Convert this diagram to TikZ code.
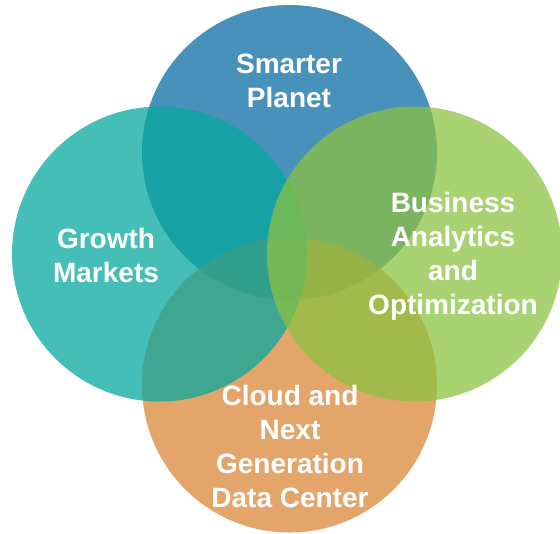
\documentclass[tikz,border=0pt]{standalone}
\usepackage{fontspec}
\setmainfont{Liberation Sans}

\definecolor{planetblue}{RGB}{8,106,163}
\definecolor{growthteal}{RGB}{5,167,159}
\definecolor{businessgreen}{RGB}{139,194,66}
\definecolor{cloudorange}{RGB}{219,134,55}

\begin{document}
\begin{tikzpicture}[x=0.75pt, y=-0.75pt]
    \tikzstyle{bubble}=[circle, minimum size=221.25pt, inner sep=0pt, draw=none, fill opacity=0.74]
    \tikzstyle{annot}=[text=white, align=center, font=\bfseries\fontsize{21}{25.5}\selectfont]

    \useasboundingbox (0,0) rectangle (560,533);

    % the four circles, back to front
    \foreach \name / \x / \y / \col in {planet/289.5/152.5/planetblue,
                                        cloud/289.5/385/cloudorange,
                                        growth/159.5/254/growthteal,
                                        business/414.5/254/businessgreen}
        \node[bubble, fill=\col] (\name) at (\x,\y) {};

    % labels on top
    \node[annot] (planet-text) at (289,81) {Smarter\\Planet};
    \node[annot] (growth-text) at (106,255) {Growth\\Markets};
    \node[annot] (business-text) at (453,256) {Business\\Analytics\\and\\Optimization};
    \node[annot] (cloud-text) at (290,446) {Cloud and\\Next\\Generation\\Data Center};
\end{tikzpicture}
\end{document}
